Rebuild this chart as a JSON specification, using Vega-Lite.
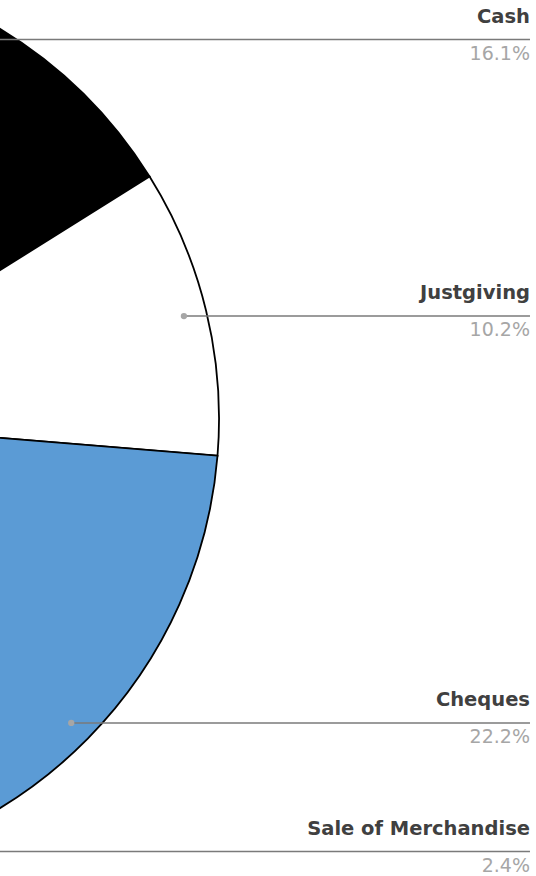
{
  "$schema": "https://vega.github.io/schema/vega-lite/v6.json",
  "width": 536,
  "height": 876,
  "autosize": {"type": "none"},
  "padding": 0,
  "background": "#ffffff",
  "config": {"view": {"stroke": null}},
  "data": {
    "values": [
      {"category": "Cash", "share": 0.161},
      {"category": "Justgiving", "share": 0.102},
      {"category": "Cheques", "share": 0.222},
      {"category": "Sale of Merchandise", "share": 0.024}
    ]
  },
  "transform": [
    {"window": [{"op": "sum", "field": "share", "as": "cum"}], "frame": [null, 0]},
    {"calculate": "datum.cum - datum.share", "as": "start"},
    {"calculate": "(datum.cum - datum.share / 2) * 2 * PI", "as": "mid"},
    {"calculate": "0.95 * sin(datum.mid)", "as": "lx"},
    {"calculate": "0.95 * cos(datum.mid)", "as": "ly"}
  ],
  "layer": [
    {
      "mark": {"type": "arc", "outerRadius": 456, "stroke": "#000000", "strokeWidth": 1.8},
      "encoding": {
        "x": {"datum": 0, "type": "quantitative", "scale": {"domain": [0.5197, 1.6952], "nice": false, "zero": false}, "axis": null},
        "y": {"datum": 0, "type": "quantitative", "scale": {"domain": [-1.0033, 0.9178], "nice": false, "zero": false}, "axis": null},
        "theta": {"field": "start", "type": "quantitative", "stack": null, "scale": {"domain": [0, 1]}},
        "theta2": {"field": "cum"},
        "color": {
          "field": "category",
          "type": "nominal",
          "scale": {
            "domain": ["Cash", "Justgiving", "Cheques", "Sale of Merchandise"],
            "range": ["#000000", "#ffffff", "#5B9BD5", "#A5A5A5"]
          },
          "legend": null
        }
      }
    },
    {
      "mark": {"type": "rule", "color": "#7a7a7a", "strokeWidth": 1.5},
      "encoding": {
        "x": {"field": "lx", "type": "quantitative"},
        "x2": {"datum": 1.682},
        "y": {"field": "ly", "type": "quantitative"}
      }
    },
    {
      "mark": {"type": "point", "filled": true, "color": "#a6a6a6", "size": 40, "opacity": 1},
      "encoding": {
        "x": {"field": "lx", "type": "quantitative"},
        "y": {"field": "ly", "type": "quantitative"}
      }
    },
    {
      "mark": {"type": "text", "align": "right", "baseline": "alphabetic", "dy": -17, "font": "DejaVu Sans", "fontWeight": "bold", "fontSize": 19.5, "color": "#404040"},
      "encoding": {
        "x": {"datum": 1.682, "type": "quantitative"},
        "y": {"field": "ly", "type": "quantitative"},
        "text": {"field": "category"}
      }
    },
    {
      "mark": {"type": "text", "align": "right", "baseline": "alphabetic", "dy": 20, "font": "DejaVu Sans", "fontSize": 19, "color": "#a6a6a6"},
      "encoding": {
        "x": {"datum": 1.682, "type": "quantitative"},
        "y": {"field": "ly", "type": "quantitative"},
        "text": {"field": "share", "type": "quantitative", "format": ".1%"}
      }
    }
  ]
}
